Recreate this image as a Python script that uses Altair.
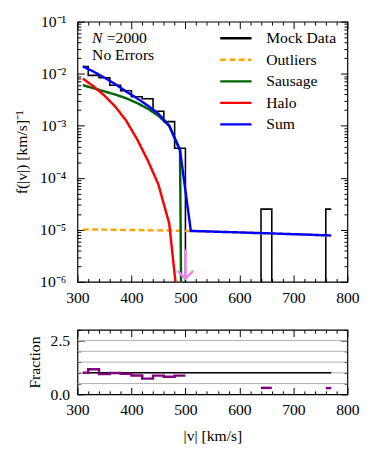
import altair as alt
import pandas as pd

# ---------------- data ----------------
series_names = ["Mock Data", "Outliers", "Sausage", "Halo", "Sum"]
series_colors = ["#000000", "#ffa500", "#006400", "#ff0000", "#0000ff"]
series_dashes = [[1, 0], [6, 3.5], [1, 0], [1, 0], [1, 0]]

hist_edges = [310, 320, 340, 360, 380, 400, 420, 440, 460, 480, 500, 520, 540,
              560, 580, 600, 620, 640, 660, 680, 700, 720, 740, 760, 770]
hist_density = [0.0137, 0.0093, 0.0084, 0.0060, 0.0047, 0.0036, 0.0033, 0.0019,
                0.0012, 0.00037, 0, 0, 0, 0, 0, 0, 0, 2.5e-5, 0, 0, 0, 0, 0, 2.5e-5]
ratio_fraction = [1.0, 1.17, 0.94, 0.99, 0.95, 0.88, 0.73, 0.87, 0.82, 0.87,
                  None, None, None, None, None, None, None, 0.30,
                  None, None, None, None, None, 0.29]
ratio_ref_v = [310, 770]
ratio_ref_val = [1.0, 1.0]

model_v = [310, 330, 350, 370, 390, 410, 430, 450, 470, 490, 510, 530, 550, 570,
           590, 610, 630, 650, 670, 690, 710, 730, 750, 770]
outliers = [1.02e-5, 1.015e-5, 1.01e-5, 1.0e-5, 9.95e-6, 9.9e-6, 9.8e-6, 9.75e-6,
            9.7e-6, 9.6e-6, 9.5e-6, 9.4e-6, 9.25e-6, 9.1e-6, 9.0e-6, 8.85e-6,
            8.7e-6, 8.6e-6, 8.45e-6, 8.3e-6, 8.2e-6, 8.05e-6, 7.9e-6, 7.8e-6]
sausage = [0.00603, 0.00525, 0.00457, 0.00398, 0.00339, 0.00275, 0.00214, 0.00155,
           0.00100, 0.000339, 0, 0, 0, 0, 0, 0, 0, 0, 0, 0, 0, 0, 0, 0]
halo = [0.00805, 0.00569, 0.00380, 0.00234, 0.00126, 0.000562, 0.000219, 7.4e-5,
        1.32e-5, 1.5e-7, 0, 0, 0, 0, 0, 0, 0, 0, 0, 0, 0, 0, 0, 0]
total = [0.0138, 0.01096, 0.00841, 0.00631, 0.00457, 0.00339, 0.00245, 0.00170,
         0.00100, 0.000339, 9.5e-6, 9.4e-6, 9.25e-6, 9.1e-6, 9.0e-6, 8.85e-6,
         8.7e-6, 8.6e-6, 8.45e-6, 8.3e-6, 8.2e-6, 8.05e-6, 7.9e-6, 7.8e-6]

limit_v = [500]
limit_top = [4.2e-6]
limit_tip = [1.15e-6]

annot_n = ["N"]
annot_eq = ["=2000"]
annot_err = ["No Errors"]

x_major = [300, 400, 500, 600, 700, 800]
x_all = list(range(300, 801, 20))
y_major = [1e-6, 1e-5, 1e-4, 1e-3, 1e-2, 1e-1]
y_all = [m * 10.0 ** e for e in range(-6, -1) for m in range(1, 10)] + [0.1]
r_major = [0.0, 2.5]
r_all = [0.0, 0.5, 1.0, 1.5, 2.0, 2.5, 3.0]
r_grid = [0.5, 1.0, 1.5, 2.0, 2.5]

FLOOR = 1e-30

# ---------------- frames ----------------
hist_rows = [{"v": hist_edges[i], "f": (hist_density[i] if hist_density[i] > 0 else FLOOR),
              "series": "Mock Data"} for i in range(len(hist_density))]
hist_rows.append({"v": hist_edges[-1], "f": hist_density[-1], "series": "Mock Data"})
df_hist = pd.DataFrame(hist_rows)


def model_df(vals, name):
    return pd.DataFrame({"v": model_v, "f": [x if x > 0 else FLOOR for x in vals],
                         "series": name})


df_out = model_df(outliers, "Outliers")
df_sau = model_df(sausage, "Sausage")
df_halo = model_df(halo, "Halo")
df_sum = model_df(total, "Sum")

df_lim = pd.DataFrame({"v": limit_v, "top": limit_top, "tip": limit_tip})

ratio_rows = []
seg = 0
prev = None
for i, r in enumerate(ratio_fraction):
    if r is None:
        if prev is not None:
            ratio_rows.append({"v": hist_edges[i], "r": prev, "seg": seg})
            seg += 1
        prev = None
        continue
    ratio_rows.append({"v": hist_edges[i], "r": r, "seg": seg})
    prev = r
if prev is not None:
    ratio_rows.append({"v": hist_edges[-1], "r": prev, "seg": seg})
df_ratio = pd.DataFrame(ratio_rows)
df_ref = pd.DataFrame({"v": ratio_ref_v, "r": ratio_ref_val})
df_grid = pd.DataFrame({"g": r_grid, "x0": [x_major[0]] * len(r_grid),
                        "x1": [x_major[-1]] * len(r_grid)})

# ---------------- styling ----------------
W, H, H2 = 276, 266, 66
FONT = "Liberation Serif"

xs = alt.Scale(domain=[300, 800], nice=False, zero=False)
ys = alt.Scale(type="log", domain=[1e-6, 1e-1], nice=False)
rs = alt.Scale(domain=[0, 3], nice=False, zero=False)
cscale = alt.Scale(domain=series_names, range=series_colors)
dscale = alt.Scale(domain=series_names, range=series_dashes)

legend = alt.Legend(title=None, orient="none", legendX=154, legendY=9, padding=0,
                    symbolType="M-3,0H3", symbolSize=114, symbolStrokeWidth=2.5,
                    labelOffset=23, rowPadding=6, labelFont=FONT, labelFontSize=16,
                    labelColor="black")

xmaj_test = "datum.value % 100 === 0"
ylog_test = "abs(log(datum.value)/LN10 - round(log(datum.value)/LN10)) < 1e-6"
rmaj_test = "datum.value === 0 || datum.value === 2.5"


def tick_axis(orient, offset, values, test):
    return alt.Axis(orient=orient, offset=offset, values=values, labels=False,
                    domain=False, grid=False, title=None, tickColor="black",
                    tickWidth=1,
                    tickSize={"condition": {"test": test, "value": 7}, "value": 3.5})


sup = "['⁰','¹','²','³','⁴','⁵','⁶','⁷','⁸','⁹']"
y_label_expr = "'10⁻' + " + sup + "[round(-log(datum.value)/LN10)]"


def cd():
    return dict(color=alt.Color("series:N", scale=cscale, legend=legend),
                strokeDash=alt.StrokeDash("series:N", scale=dscale, legend=legend))


hist = alt.Chart(df_hist).mark_line(interpolate="step-after", strokeWidth=1.6,
                                    clip=True).encode(
    x=alt.X("v:Q", scale=xs, axis=alt.Axis(orient="bottom", values=x_major, ticks=False,
                                           domain=False, grid=False, title=None,
                                           labelPadding=8, labelFlush=False)),
    y=alt.Y("f:Q", scale=ys, axis=alt.Axis(orient="left", values=y_major, ticks=False,
                                           domain=False, grid=False,
                                           labelExpr=y_label_expr, labelPadding=12,
                                           title="f(|v|) [km/s]⁻¹", titlePadding=10)),
    **cd())

out_l = alt.Chart(df_out).mark_line(strokeWidth=2.5, clip=True).encode(
    x=alt.X("v:Q", scale=xs, axis=tick_axis("top", -H, x_all, xmaj_test)),
    y=alt.Y("f:Q", scale=ys, axis=tick_axis("right", -W, y_all, ylog_test)),
    **cd())
sau_l = alt.Chart(df_sau).mark_line(strokeWidth=2.5, clip=True).encode(
    x=alt.X("v:Q", scale=xs, axis=tick_axis("bottom", -H, x_all, xmaj_test)),
    y=alt.Y("f:Q", scale=ys, axis=tick_axis("left", -W, y_all, ylog_test)),
    **cd())
halo_l = alt.Chart(df_halo).mark_line(strokeWidth=2.5, clip=True).encode(
    x=alt.X("v:Q", scale=xs, axis=None), y=alt.Y("f:Q", scale=ys, axis=None), **cd())
sum_l = alt.Chart(df_sum).mark_line(strokeWidth=2.5, clip=True).encode(
    x=alt.X("v:Q", scale=xs, axis=None), y=alt.Y("f:Q", scale=ys, axis=None), **cd())

lim_rule = alt.Chart(df_lim).mark_rule(color="violet", strokeWidth=2.5).encode(
    x=alt.X("v:Q", scale=xs, axis=None), y=alt.Y("top:Q", scale=ys, axis=None),
    y2="tip:Q")
lim_head = alt.Chart(df_lim).mark_point(shape="M-1,-1L0,0L1,-1", filled=False,
                                        color="violet", strokeWidth=2.5, size=256,
                                        opacity=1).encode(
    x=alt.X("v:Q", scale=xs, axis=None), y=alt.Y("tip:Q", scale=ys, axis=None))

txt_n = alt.Chart(pd.DataFrame({"t": annot_n})).mark_text(
    font=FONT, fontSize=16, fontStyle="italic", align="left", baseline="middle",
    color="black").encode(text="t:N", x=alt.value(15), y=alt.value(17))
txt_eq = alt.Chart(pd.DataFrame({"t": annot_eq})).mark_text(
    font=FONT, fontSize=16, align="left", baseline="middle",
    color="black").encode(text="t:N", x=alt.value(30), y=alt.value(17))
txt_err = alt.Chart(pd.DataFrame({"t": annot_err})).mark_text(
    font=FONT, fontSize=16, align="left", baseline="middle",
    color="black").encode(text="t:N", x=alt.value(15), y=alt.value(34))

top = alt.layer(hist, out_l, sau_l, halo_l, sum_l, lim_rule, lim_head,
                txt_n, txt_eq, txt_err).resolve_axis(
    x="independent", y="independent").properties(width=W, height=H)

# bottom panel
grid_l = alt.Chart(df_grid).mark_rule(color="#b0b0b0", strokeWidth=1).encode(
    x=alt.X("x0:Q", scale=xs, axis=tick_axis("bottom", -H2, x_all, xmaj_test)),
    x2="x1:Q",
    y=alt.Y("g:Q", scale=rs, axis=tick_axis("left", -W, r_all, rmaj_test)))
ref_l = alt.Chart(df_ref).mark_line(color="black", strokeWidth=1.5).encode(
    x=alt.X("v:Q", scale=xs, axis=tick_axis("top", -H2, x_all, xmaj_test)),
    y=alt.Y("r:Q", scale=rs, axis=tick_axis("right", -W, r_all, rmaj_test)))
ratio_l = alt.Chart(df_ratio).mark_line(color="purple", strokeWidth=2.5,
                                        interpolate="step-after").encode(
    x=alt.X("v:Q", scale=xs, axis=alt.Axis(orient="bottom", values=x_major, ticks=False,
                                           domain=False, grid=False,
                                           title="|v| [km/s]", labelPadding=8,
                                           titlePadding=10, labelFlush=False)),
    y=alt.Y("r:Q", scale=rs, axis=alt.Axis(orient="left", values=r_major, format=".1f",
                                           ticks=False, domain=False, grid=False,
                                           title="Fraction", labelPadding=8,
                                           titlePadding=8)),
    detail="seg:N")

bottom = alt.layer(grid_l, ref_l, ratio_l).resolve_axis(
    x="independent", y="independent").properties(width=W, height=H2)

chart = alt.vconcat(
    top, bottom, spacing=22,
    padding={"left": 5, "top": 0, "right": 5, "bottom": 5}
).configure_view(
    stroke="black", strokeWidth=1.2
).configure_axis(
    labelFont=FONT, labelFontSize=16, labelColor="black",
    titleFont=FONT, titleFontSize=16, titleFontWeight="normal", titleColor="black"
)

chart.save("out.html", embed_options={"renderer": "svg", "actions": False})
